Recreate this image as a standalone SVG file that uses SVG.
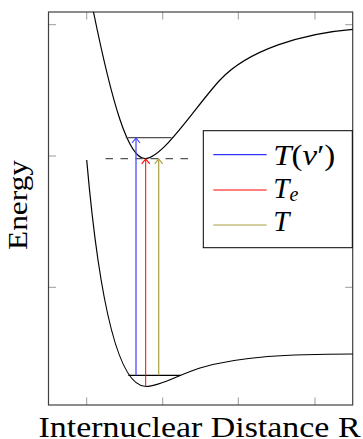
<svg xmlns="http://www.w3.org/2000/svg" width="363" height="439" viewBox="0 0 363 439">
<defs>
<style>
.frame{fill:none;stroke:#404040;stroke-width:1.2}
.tick{stroke:#808080;stroke-width:0.8}
.curve{fill:none;stroke:#000;stroke-width:1.2}
.lbl{font-family:"Liberation Serif","Times New Roman",serif;fill:#000}
.it{font-style:italic}
</style>
<marker id="ab" markerWidth="10" markerHeight="10" refX="8" refY="5" orient="auto" markerUnits="userSpaceOnUse"><path d="M3,1 L8,5 L3,9" fill="none" stroke="#4444ff" stroke-width="1.1"/></marker>
<marker id="ar" markerWidth="10" markerHeight="10" refX="8" refY="5" orient="auto" markerUnits="userSpaceOnUse"><path d="M3,1 L8,5 L3,9" fill="none" stroke="#ff0000" stroke-width="1.1"/></marker>
<marker id="ay" markerWidth="10" markerHeight="10" refX="8" refY="5" orient="auto" markerUnits="userSpaceOnUse"><path d="M3,1 L8,5 L3,9" fill="none" stroke="#a8a040" stroke-width="1.1"/></marker>
</defs>
<rect width="363" height="439" fill="#fff"/>
<g id="axes">
<g class="tick">
<line x1="86.7" y1="12" x2="86.7" y2="19.5"/><line x1="162.7" y1="12" x2="162.7" y2="19.5"/><line x1="238.3" y1="12" x2="238.3" y2="19.5"/><line x1="315" y1="12" x2="315" y2="19.5"/>
<line x1="86.7" y1="405" x2="86.7" y2="397.5"/><line x1="162.7" y1="405" x2="162.7" y2="397.5"/><line x1="238.3" y1="405" x2="238.3" y2="397.5"/><line x1="315" y1="405" x2="315" y2="397.5"/>
<line x1="48.5" y1="24.7" x2="56" y2="24.7"/><line x1="48.5" y1="156" x2="56" y2="156"/><line x1="48.5" y1="287.3" x2="56" y2="287.3"/>
<line x1="352.7" y1="24.7" x2="345.2" y2="24.7"/><line x1="352.7" y1="156" x2="345.2" y2="156"/><line x1="352.7" y1="287.3" x2="345.2" y2="287.3"/>
</g>
<rect class="frame" x="48.5" y="12" width="304.2" height="393"/>
</g>
<g id="upper-curve">
<path class="curve" d="M93.5,12 C111.9,102 128,158.5 145,158.5 C163,158.5 197,104.6 220,80 C248,50 302.7,33.3 352.7,29.3"/>
</g>
<g id="lower-curve">
<path class="curve" d="M86.7,160 C99,300 118,386.5 146,386.5 C160,386.5 180,374 200,368 C240,356 290,354 352.7,354"/>
</g>
<g id="levels">
<line x1="125.7" y1="137.7" x2="171.5" y2="137.7" stroke="#505050" stroke-width="1.3"/>
<line x1="128.3" y1="375.3" x2="181" y2="375.3" stroke="#000" stroke-width="1.2"/>
<line x1="105.5" y1="158.7" x2="190" y2="158.7" stroke="#555" stroke-width="1.3" stroke-dasharray="7.5 7.5"/>
</g>
<g id="connectors">
<line x1="136" y1="375.3" x2="136" y2="138" stroke="#4d4dff" stroke-width="1.3" marker-end="url(#ab)"/>
<line x1="145.7" y1="386.5" x2="145.7" y2="158.8" stroke="#ff0000" stroke-width="1" marker-end="url(#ar)"/>
<line x1="158.7" y1="375.3" x2="158.7" y2="158.8" stroke="#a8a040" stroke-width="1.2" marker-end="url(#ay)"/>
</g>
<g id="legend">
<rect x="203.3" y="130.7" width="149" height="117" fill="#fff" stroke="#000" stroke-width="1"/>
<line x1="213.3" y1="154.7" x2="266.7" y2="154.7" stroke="#0000ff" stroke-width="1"/>
<line x1="213.3" y1="190" x2="266.7" y2="190" stroke="#ff0000" stroke-width="1"/>
<line x1="213.3" y1="225" x2="266.7" y2="225" stroke="#a8a040" stroke-width="1.2"/>
<text class="lbl" x="273.3" y="164.7" font-size="29" textLength="62" lengthAdjust="spacingAndGlyphs"><tspan class="it">T</tspan>(<tspan class="it">ν</tspan>′)</text>
<text class="lbl" x="273.3" y="198.3" font-size="29"><tspan class="it">T</tspan><tspan class="it" font-size="20" dy="3">e</tspan></text>
<text class="lbl" x="273.3" y="231" font-size="29"><tspan class="it">T</tspan></text>
</g>
<g id="labels">
<text class="lbl" x="38.5" y="437" font-size="29" textLength="322" lengthAdjust="spacingAndGlyphs">Internuclear Distance R</text>
<text class="lbl" transform="translate(26.7,205) rotate(-90)" text-anchor="middle" font-size="28" textLength="90" lengthAdjust="spacingAndGlyphs">Energy</text>
</g>
</svg>
